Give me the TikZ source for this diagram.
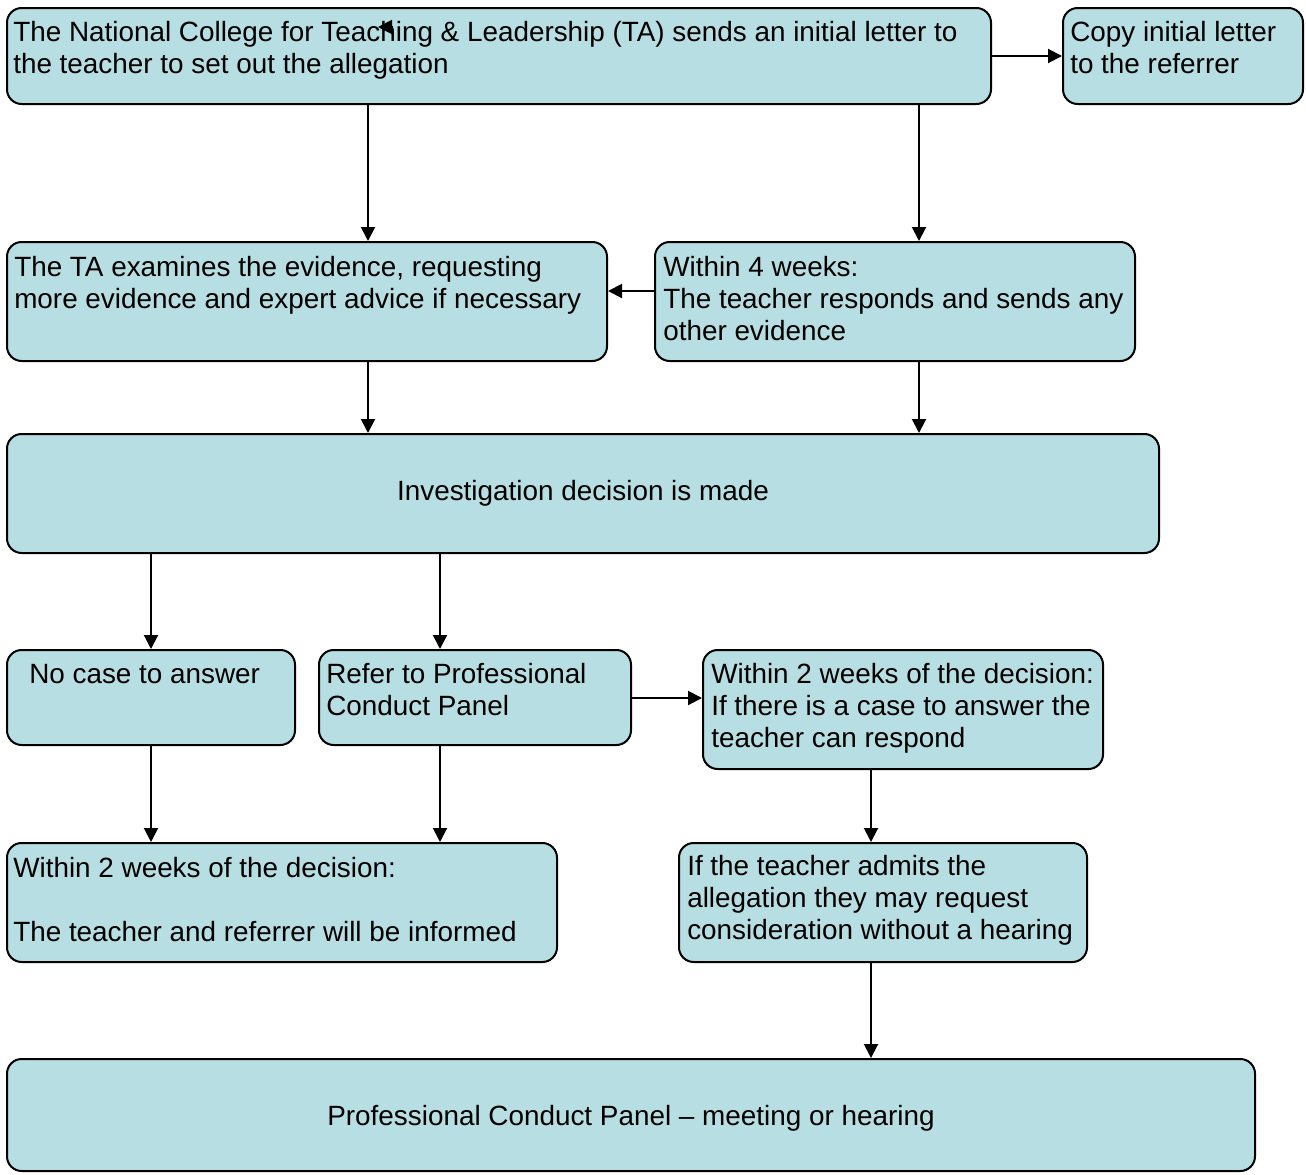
\documentclass[tikz,border=0pt]{standalone}
\usepackage{fontspec}
\setmainfont{Liberation Sans}
\usetikzlibrary{arrows.meta,fit}
\definecolor{boxfill}{RGB}{183,222,226}
\begin{document}
\begin{tikzpicture}[x=0.75pt,y=-0.75pt,
  box/.style={draw=black, line width=1.5pt, fill=boxfill, rounded corners=11pt, inner sep=0pt},
  txt/.style={font=\fontsize{20.9}{24}\selectfont, align=left, inner sep=0pt, anchor=base west},
  ctxt/.style={font=\fontsize{20.9}{24}\selectfont, inner sep=0pt, anchor=base},
  arr/.style={line width=1.5pt, -{Triangle[length=10.5pt,width=10.5pt]}}]
\useasboundingbox (0,0) rectangle (1306,1174);
% boxes
\node[box, fit={(7,8) (991,104)}] (b1) {};
\node[box, fit={(1063,8) (1303,104)}] (b2) {};
\node[box, fit={(7,242) (607,361)}] (b3) {};
\node[box, fit={(655,242) (1135,361)}] (b4) {};
\node[box, fit={(7,434) (1159,553)}] (b5) {};
\node[box, fit={(7,650) (295,745)}] (b6) {};
\node[box, fit={(319,650) (631,745)}] (b7) {};
\node[box, fit={(703,650) (1103,769)}] (b8) {};
\node[box, fit={(7,843) (557,962)}] (b9) {};
\node[box, fit={(679,843) (1087,962)}] (b10) {};
\node[box, fit={(7,1059) (1255,1171)}] (b11) {};
% texts (anchored at the baseline of their last line)
\node[txt] (t1) at (13,73) {The National College for Teaching \& Leadership (TA) sends an initial letter to\\the teacher to set out the allegation};
\node[txt] (t2) at (1070,73) {Copy initial letter\\to the referrer};
\node[txt] (t3) at (14,308) {The TA examines the evidence, requesting\\more evidence and expert advice if necessary};
\node[txt] (t4) at (663,340) {Within 4 weeks:\\The teacher responds and sends any\\other evidence};
\node[ctxt] (t5) at (583,500) {Investigation decision is made};
\node[txt] (t6) at (29,683) {No case to answer};
\node[txt] (t7) at (326,715) {Refer to Professional\\Conduct Panel};
\node[txt] (t8) at (711,747) {Within 2 weeks of the decision:\\If there is a case to answer the\\teacher can respond};
\node[txt] (t9) at (13,941) {Within 2 weeks of the decision:\\[24pt]The teacher and referrer will be informed};
\node[txt] (t10) at (687,939) {If the teacher admits the\\allegation they may request\\consideration without a hearing};
\node[ctxt] (t11) at (631,1125) {Professional Conduct Panel -- meeting or hearing};
% connectors
\draw[arr] (b1) -- (b2);
\draw[arr] (368,0 |- b1.south) -- (368,0 |- b3.north);
\draw[arr] (919,0 |- b1.south) -- (919,0 |- b4.north);
\draw[arr] (b4.west |- 0,291) -- (b3.east |- 0,291);
\draw[arr] (368,0 |- b3.south) -- (368,0 |- b5.north);
\draw[arr] (919,0 |- b4.south) -- (919,0 |- b5.north);
\draw[arr] (151,0 |- b5.south) -- (151,0 |- b6.north);
\draw[arr] (440,0 |- b5.south) -- (440,0 |- b7.north);
\draw[arr] (b7.east |- 0,698) -- (b8.west |- 0,698);
\draw[arr] (151,0 |- b6.south) -- (151,0 |- b9.north);
\draw[arr] (440,0 |- b7.south) -- (440,0 |- b9.north);
\draw[arr] (871,0 |- b8.south) -- (871,0 |- b10.north);
\draw[arr] (871,0 |- b10.south) -- (871,0 |- b11.north);
% stray arrowhead inside the first box
\coordinate (s1) at (392,27);
\coordinate (s2) at (378,27);
\draw[arr] (s1) -- (s2);
\end{tikzpicture}
\end{document}
